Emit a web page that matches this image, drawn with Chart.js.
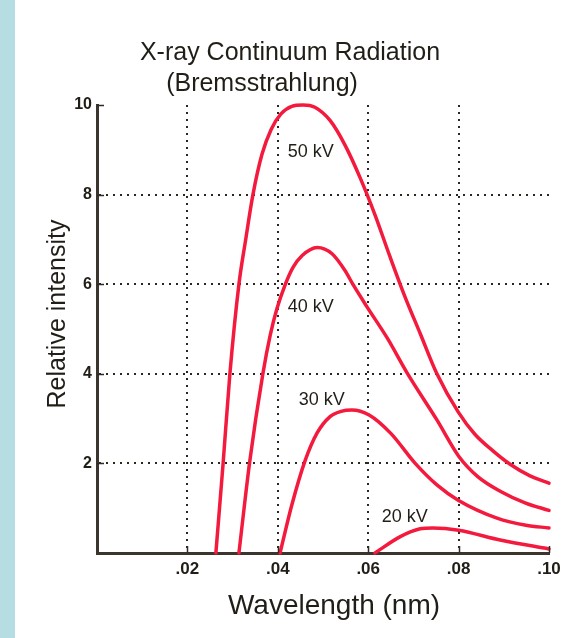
<!DOCTYPE html>
<html>
<head>
<meta charset="utf-8">
<script src="https://cdn.jsdelivr.net/npm/chart.js@4"></script>
<style>
  html, body { margin: 0; padding: 0; }
  body {
    width: 576px; height: 638px; overflow: hidden;
    background: linear-gradient(to right, #b6dee2 0, #b6dee2 15px, #fff 15px);
  }
  canvas { position: absolute; left: 0; top: 0; }
</style>
</head>
<body>
<canvas id="myChart" width="576" height="638"></canvas>
<script>
// wavelength (nm) and relative intensity
const wl50 = [0.0263, 0.0279, 0.0294, 0.0314, 0.0329, 0.0345, 0.0365, 0.0385, 0.0407, 0.0431, 0.0456, 0.0482, 0.0516, 0.0549, 0.0582, 0.0615, 0.0648, 0.0681, 0.0715, 0.0752, 0.0799, 0.0836, 0.0876, 0.0914, 0.0958, 0.1];
const i50 = [0, 2, 4, 6, 7, 8, 8.9, 9.45, 9.8, 9.97, 10.0, 9.95, 9.65, 9.1, 8.38, 7.55, 6.62, 5.73, 4.9, 4.0, 3.15, 2.65, 2.28, 1.98, 1.72, 1.56];
const wl40 = [0.0314, 0.0338, 0.0367, 0.0383, 0.0398, 0.0416, 0.0434, 0.0454, 0.0487, 0.0520, 0.0549, 0.0566, 0.0597, 0.0642, 0.0686, 0.0752, 0.0801, 0.0843, 0.0892, 0.0947, 0.1];
const i40 = [0, 2.05, 4.0, 4.85, 5.45, 5.98, 6.38, 6.64, 6.82, 6.68, 6.3, 6.0, 5.5, 4.8, 4.02, 2.97, 2.15, 1.7, 1.38, 1.12, 0.95];
const wl30 = [0.0405, 0.0431, 0.0460, 0.0487, 0.0515, 0.0540, 0.0564, 0.0602, 0.0650, 0.0704, 0.0752, 0.0799, 0.0885, 0.0949, 0.1];
const i30 = [0, 1.07, 2.05, 2.68, 3.04, 3.16, 3.19, 3.08, 2.67, 2.0, 1.52, 1.18, 0.78, 0.62, 0.56];
const wl20 = [0.0615, 0.0670, 0.0715, 0.0743, 0.0800, 0.0892, 0.1];
const i20 = [0, 0.36, 0.54, 0.56, 0.51, 0.29, 0.09];

const seriesNames = ['50 kV', '40 kV', '30 kV', '20 kV'];
const xTicks = [0.02, 0.04, 0.06, 0.08, 0.10];
const yTicks = [2, 4, 6, 8, 10];

const toPoints = (xs, ys) => xs.map((x, i) => ({ x, y: ys[i] }));
const RED = '#f31a3e';
const INK = '#211d17';
const DOT = '#2c271e';
const FONT = '"Liberation Sans", Arial, Helvetica, sans-serif';

const near = (v, list) => list.some(t => Math.abs(t - v) < 1e-9);

// where each curve's name sits (data coordinates)
const labelAnchors = [[0.0473, 8.95], [0.0473, 5.5], [0.0497, 3.42], [0.0681, 0.8]];

const decorations = {
    id: 'decorations',
    afterDraw(chart) {
        const { ctx, scales: { x, y } } = chart;
        ctx.save();
        // small inner tick marks
        ctx.strokeStyle = '#2f2a24';
        ctx.lineWidth = 1.5;
        ctx.setLineDash([]);
        xTicks.forEach(v => {
            const px = Math.round(x.getPixelForValue(v)) + 0.5;
            ctx.beginPath();
            ctx.moveTo(px, y.bottom);
            ctx.lineTo(px, y.bottom - 7);
            ctx.stroke();
        });
        yTicks.forEach(v => {
            const py = Math.round(y.getPixelForValue(v)) + 0.5;
            ctx.beginPath();
            ctx.moveTo(x.left, py);
            ctx.lineTo(x.left + 7, py);
            ctx.stroke();
        });

        ctx.fillStyle = INK;
        ctx.textAlign = 'center';
        ctx.textBaseline = 'middle';
        // curve names
        ctx.font = '18px ' + FONT;
        seriesNames.forEach((name, i) => {
            const [lx, ly] = labelAnchors[i];
            ctx.fillText(name, x.getPixelForValue(lx), y.getPixelForValue(ly));
        });
        // titles
        ctx.font = '25px ' + FONT;
        ctx.fillText('X-ray Continuum Radiation', 290, 53);
        ctx.fillText('(Bremsstrahlung)', 262, 84);
        ctx.font = '28px ' + FONT;
        ctx.fillText('Wavelength (nm)', 334, 606);
        ctx.translate(58, 314);
        ctx.rotate(-Math.PI / 2);
        ctx.font = '25px ' + FONT;
        ctx.fillText('Relative intensity', 0, 0);
        ctx.restore();
    }
};

const canvas = document.getElementById('myChart');
new Chart(canvas, {
    type: 'line',
    data: {
        datasets: [
            { label: seriesNames[0], data: toPoints(wl50, i50) },
            { label: seriesNames[1], data: toPoints(wl40, i40) },
            { label: seriesNames[2], data: toPoints(wl30, i30) },
            { label: seriesNames[3], data: toPoints(wl20, i20) },
        ].map(ds => ({
            ...ds,
            borderColor: RED,
            borderWidth: 3.5,
            pointRadius: 0,
            fill: false,
            cubicInterpolationMode: 'monotone',
            borderJoinStyle: 'round',
            borderCapStyle: 'round',
            clip: false
        }))
    },
    options: {
        responsive: false,
        animation: false,
        devicePixelRatio: 1,
        layout: { padding: { top: 105, right: 27, left: 0, bottom: 0 } },
        plugins: {
            legend: { display: false },
            tooltip: { enabled: false },
            title: { display: false }
        },
        scales: {
            x: {
                type: 'linear',
                min: 0,
                max: 0.1,
                afterFit: s => { s.height = 85; },
                afterBuildTicks: s => { s.ticks = [0].concat(xTicks).map(v => ({ value: v })); },
                ticks: {
                    padding: 6,
                    color: INK,
                    font: { family: FONT, size: 17, weight: 'bold' },
                    maxRotation: 0,
                    callback: v => v === 0 ? '' : v.toFixed(2).replace('0.', '.')
                },
                grid: {
                    drawTicks: false,
                    lineWidth: 2,
                    color: c => (c.tick && near(c.tick.value, [0.02, 0.04, 0.06, 0.08])) ? DOT : 'transparent'
                },
                border: { display: true, color: '#3a352d', width: 3, dash: [2, 5] }
            },
            y: {
                min: 0,
                max: 10,
                afterFit: s => { s.width = 97; },
                afterBuildTicks: s => { s.ticks = [0].concat(yTicks).map(v => ({ value: v })); },
                ticks: {
                    padding: 5,
                    color: INK,
                    font: { family: FONT, size: 16, weight: 'bold' },
                    callback: v => v === 0 ? '' : String(v)
                },
                grid: {
                    drawTicks: false,
                    lineWidth: 2,
                    color: c => (c.tick && near(c.tick.value, [2, 4, 6, 8])) ? DOT : 'transparent'
                },
                border: { display: true, color: '#3a352d', width: 3, dash: [2, 5] }
            }
        }
    },
    plugins: [decorations]
});
</script>
</body>
</html>
